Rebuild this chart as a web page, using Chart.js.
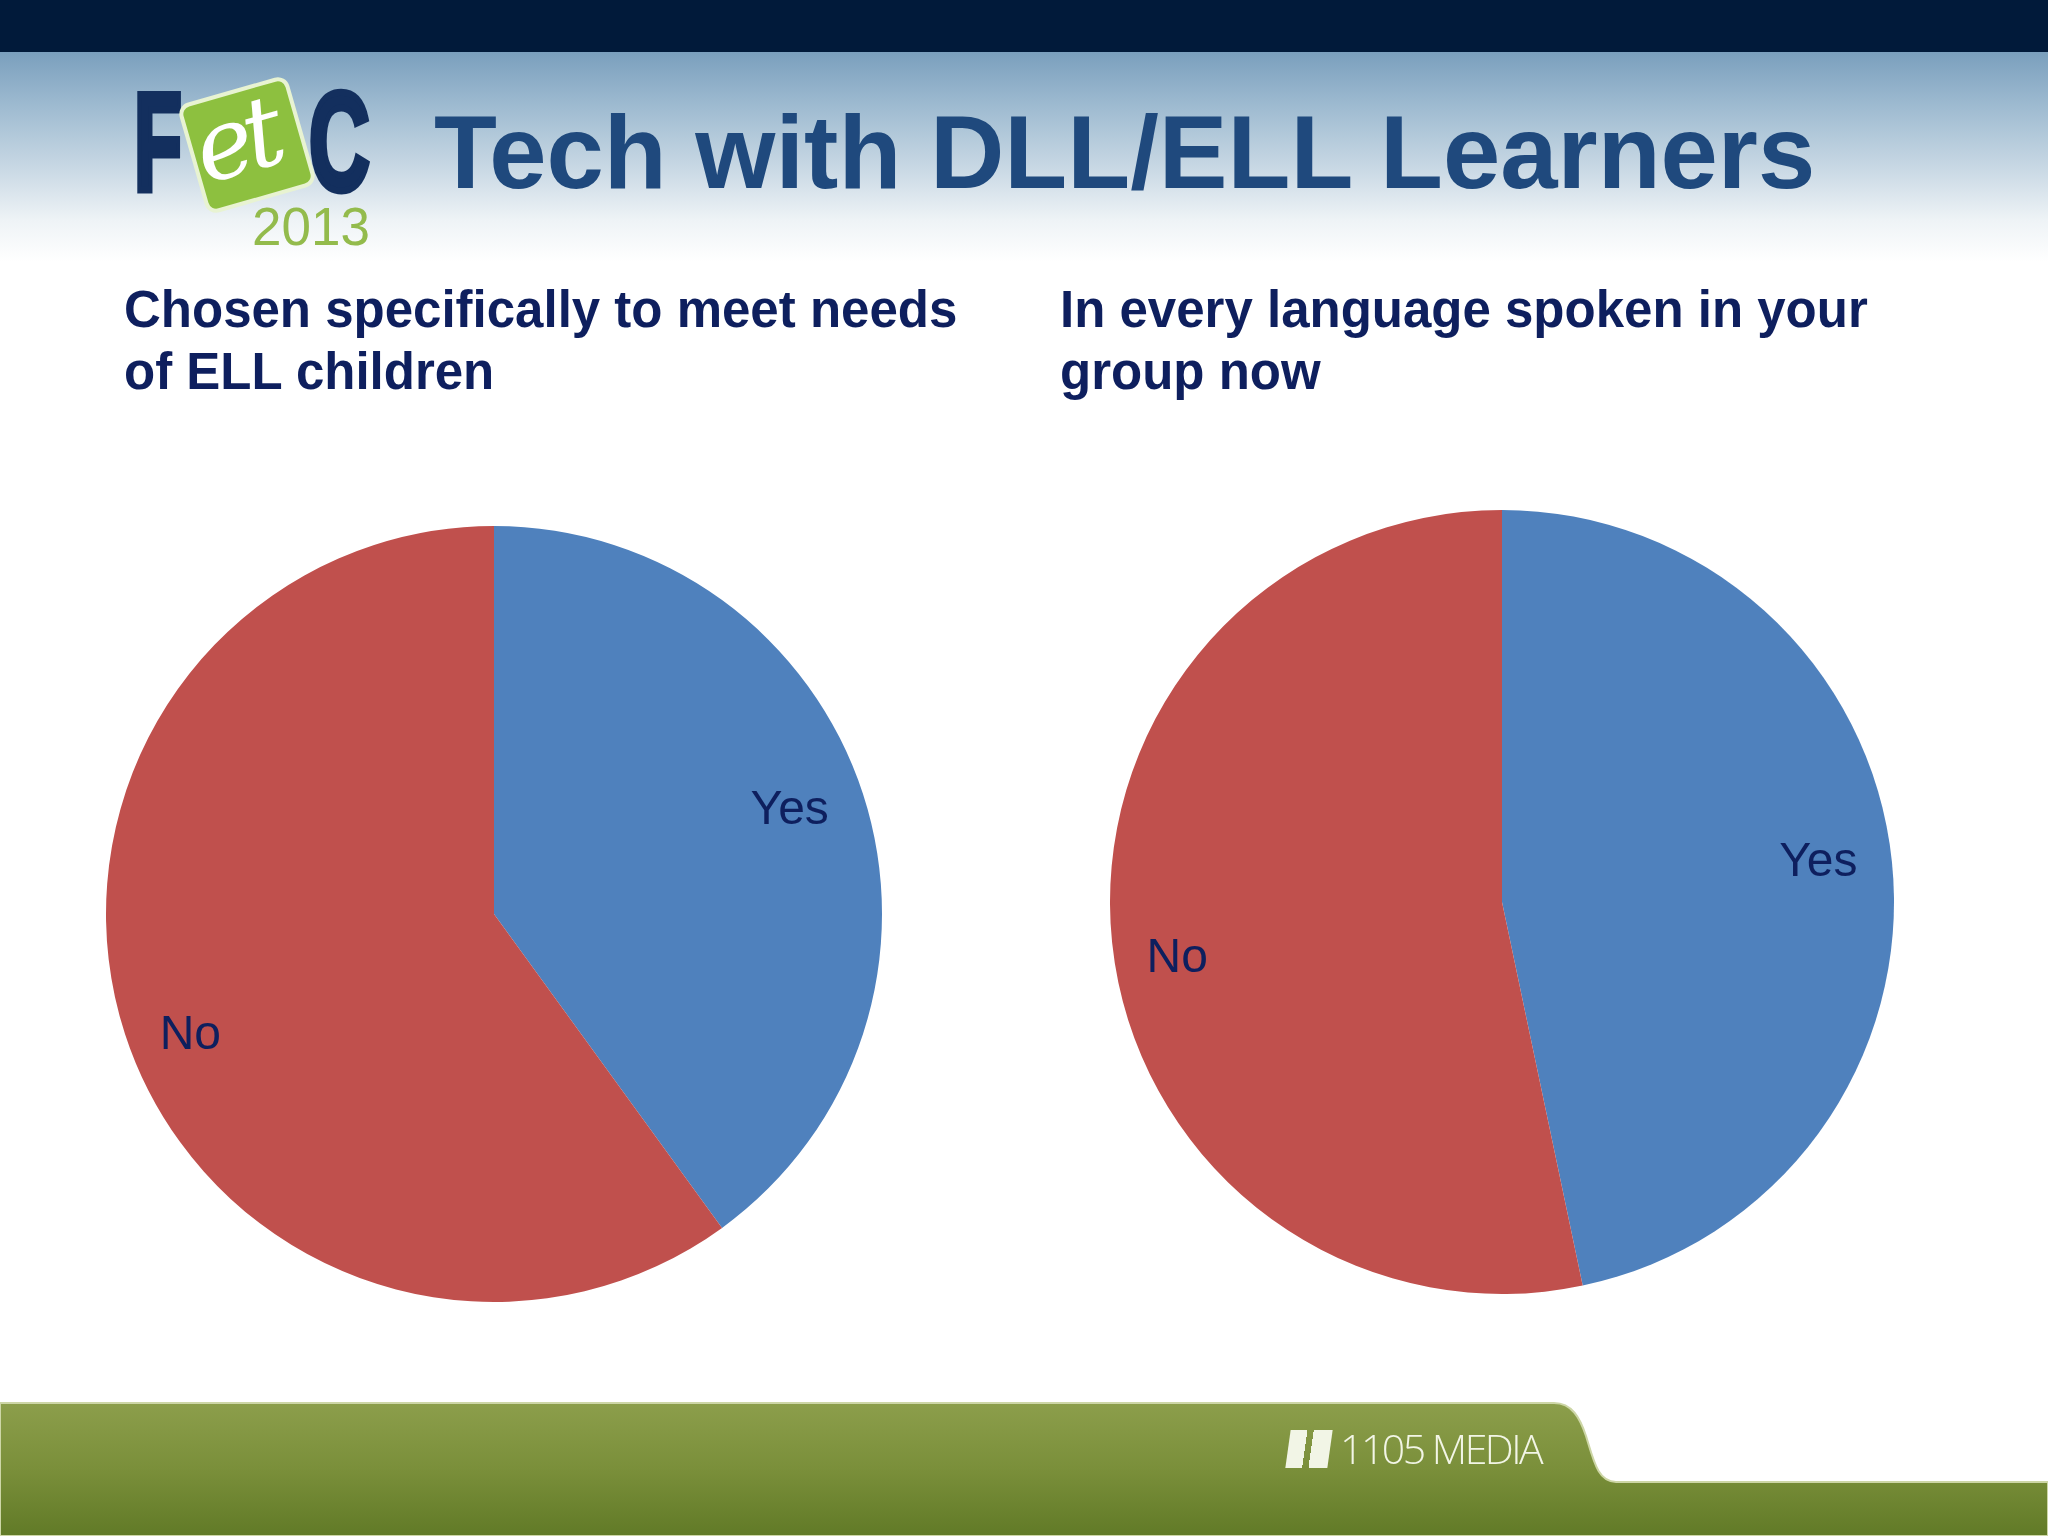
<!DOCTYPE html>
<html>
<head>
<meta charset="utf-8">
<title>Tech with DLL/ELL Learners</title>
<script src="https://cdn.jsdelivr.net/npm/chart.js@4.4.0/dist/chart.umd.min.js"></script>
<style>
  html, body { margin: 0; padding: 0; }
  body {
    width: 2048px; height: 1536px; position: relative; overflow: hidden;
    background: #ffffff; font-family: "Liberation Sans", Arial, sans-serif;
  }
  .topband { position: absolute; left: 0; top: 0; width: 2048px; height: 52px; background: #011a3a; }
  .header {
    position: absolute; left: 0; top: 52px; width: 2048px; height: 210px;
    background: linear-gradient(to bottom, #7a9fbd 0%, #9dbad0 25%, #c8d8e4 55%, #eef3f6 80%, #ffffff 100%);
  }
  .title {
    position: absolute; left: 434px; top: 101px; margin: 0;
    font-size: 103px; font-weight: bold; color: #1f497d; line-height: 1; white-space: nowrap;
  }
  .logo-letter {
    position: absolute; font-weight: bold; color: #132f5e; font-size: 140px; line-height: 1;
    -webkit-text-stroke: 7px #132f5e; transform-origin: left top;
  }
  .tile {
    position: absolute; left: 190px; top: 88px; width: 106px; height: 106px;
    background: #8dc03f; border: 4px solid #e8f3d2; border-radius: 12px;
    transform: rotate(-16deg);
  }
  .tile span {
    position: absolute; left: 2px; top: -4px; font-family: "DejaVu Serif", serif; font-style: italic;
    font-size: 98px; color: #ffffff; line-height: 1; letter-spacing: -8px;
  }
  .year { position: absolute; left: 252px; top: 200px; font-size: 53px; color: #93bb4c; line-height: 1; }
  .subtitle {
    position: absolute; top: 279px; margin: 0; font-size: 51px; font-weight: bold;
    color: #0e1f5e; line-height: 62px;
  }
  .pie { position: absolute; width: 840px; height: 840px; }
  .footer { position: absolute; left: 0; top: 0; }
  .media {
    position: absolute; left: 1288px; top: 1428px; color: #f2f5e6; font-family: "Open Sans", sans-serif;
    font-weight: 300; font-size: 41px; line-height: 1; white-space: nowrap; letter-spacing: -2.5px;
  }
  .media b {
    display: inline-block; width: 42px; height: 38px; margin-right: 10px; vertical-align: -4px;
    background: linear-gradient(90deg, #f2f5e6 0 40%, transparent 40% 55%, #f2f5e6 55% 100%);
    transform: skewX(-8deg);
  }
</style>
</head>
<body>
<div class="topband"></div>
<div class="header"></div>

<div class="logo-letter" style="left:134px; top:72px; transform: scaleX(0.56);">F</div>
<div class="tile"><span>et</span></div>
<div class="logo-letter" style="left:309px; top:72px; transform: scaleX(0.6);">C</div>
<div class="year">2013</div>

<h1 class="title">Tech with DLL/ELL Learners</h1>

<p class="subtitle" id="sub0" style="left:124px;"></p>
<p class="subtitle" id="sub1" style="left:1060px;"></p>

<canvas id="pie0" class="pie" width="840" height="840" style="left:74px; top:494px;"></canvas>
<canvas id="pie1" class="pie" width="840" height="840" style="left:1082px; top:482px;"></canvas>

<svg class="footer" width="2048" height="1536">
  <defs>
    <linearGradient id="green" x1="0" y1="1403" x2="0" y2="1536" gradientUnits="userSpaceOnUse">
      <stop offset="0" stop-color="#8c9e4b"/>
      <stop offset="0.5" stop-color="#7a8f3a"/>
      <stop offset="1" stop-color="#617a27"/>
    </linearGradient>
  </defs>
  <path d="M0,1403 L1554,1403 C1572,1403 1580,1418 1586,1436 C1594,1462 1598,1482 1616,1482 L2048,1482 L2048,1536 L0,1536 Z"
        fill="url(#green)" stroke="#cdd6a6" stroke-width="2"/>
</svg>
<div class="media"><b></b>1105 MEDIA</div>

<script>
// chart data
const sliceLabels = ['Yes', 'No'];
const chartTitles = [
  ['Chosen specifically to meet needs', 'of ELL children'],
  ['In every language spoken in your', 'group now']
];
const chosenValues = [40, 60];       // % of responses
const languageValues = [46.7, 53.3]; // % of responses
const sliceColors = ['#4f81bd', '#c0504d'];
const pieRadii = [388, 392];

chartTitles.forEach((lines, i) => {
  document.getElementById('sub' + i).innerHTML = lines.join('<br>');
});

// writes the category name inside each slice, near the rim
const sliceLabelPlugin = {
  id: 'sliceLabels',
  afterDatasetsDraw(chart) {
    const ctx = chart.ctx;
    const meta = chart.getDatasetMeta(0);
    ctx.save();
    ctx.font = '48px "Liberation Sans", Arial, sans-serif';
    ctx.fillStyle = '#0e1f5e';
    ctx.textAlign = 'center';
    ctx.textBaseline = 'middle';
    meta.data.forEach((arc, i) => {
      const p = arc.getProps(['x', 'y', 'startAngle', 'endAngle', 'outerRadius'], true);
      const text = chart.data.labels[i];
      const mid = (p.startAngle + p.endAngle) / 2 - 0.045;
      const r = p.outerRadius - (ctx.measureText(text).width / 2 + 33);
      ctx.fillText(text, p.x + Math.cos(mid) * r, p.y + Math.sin(mid) * r + 8);
    });
    ctx.restore();
  }
};

function makePie(id, values, radius) {
  new Chart(document.getElementById(id), {
    type: 'pie',
    data: {
      labels: sliceLabels,
      datasets: [{
        data: values,
        backgroundColor: sliceColors,
        borderWidth: 0
      }]
    },
    options: {
      responsive: false,
      animation: false,
      radius: radius,
      layout: { padding: 0 },
      plugins: {
        legend: { display: false },
        tooltip: { enabled: false }
      }
    },
    plugins: [sliceLabelPlugin]
  });
}

makePie('pie0', chosenValues, pieRadii[0]);
makePie('pie1', languageValues, pieRadii[1]);
</script>
</body>
</html>
